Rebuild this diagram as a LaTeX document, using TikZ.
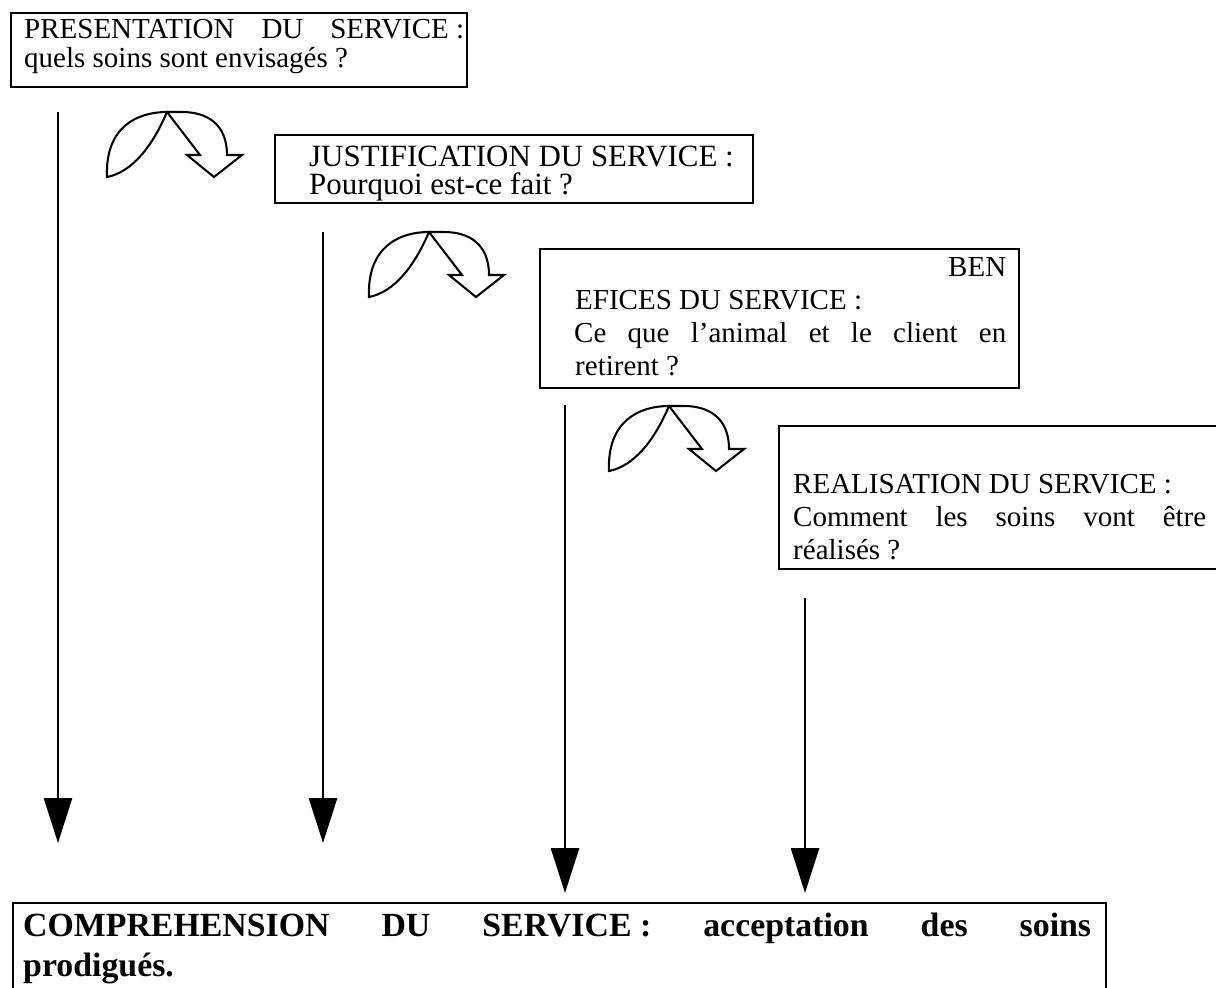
\documentclass[tikz,border=0pt]{standalone}
\usepackage{fontspec}
\setmainfont{Liberation Serif}
\usetikzlibrary{arrows.meta}
\newdimen\px \px=0.4138pt
\begin{document}
\begin{tikzpicture}[x=0.4138pt, y=-0.4138pt,
  box/.style={draw, line width=1pt, rectangle, inner sep=0pt, anchor=north west},
  varrow/.style={line width=1.1pt, -{Triangle[length=18.6pt, width=11.6pt]}},
  curvestyle/.style={draw, line width=0.85pt, line join=miter},
  curvarrow/.pic={
    \draw[curvestyle] (0,0) .. controls (-15,35) and (-35,60) .. (-60,65)
       .. controls (-62,15) and (-30,0) .. (0,0) -- cycle;
    \draw[curvestyle] (0,0) -- (33,43) -- (20,43) -- (47,65) -- (75,43) -- (60,43)
       .. controls (60,12) and (40,0) .. (15,0) -- cycle;
  }]
\useasboundingbox (0,0) rectangle (1216,987);
\clip (0,0) rectangle (1216,987);

% boxes
\node[box] (b1) at (10,12) {\parbox[t][74\px][t]{456\px}{\fontsize{12}{12}\selectfont
  \rule{0pt}{25\px}\hspace*{13\px}\makebox[440\px][s]{PRESENTATION DU SERVICE\kern.25em:}\\
  \hspace*{13\px}quels soins sont envisagés ?}};

\node[box] (b2) at (274,134) {\parbox[t][68\px][t]{478\px}{\fontsize{12.8}{11.6}\selectfont
  \rule{0pt}{31\px}\hspace*{34\px}JUSTIFICATION DU SERVICE\kern.25em:\\
  \hspace*{34\px}Pourquoi est-ce fait ?}};

\node[box] (b3) at (539,248) {\parbox[t][139\px][t]{479\px}{\fontsize{12}{13.66}\selectfont
  \rule{0pt}{27\px}\hspace*{35\px}\makebox[431\px][r]{BEN}\\
  \hspace*{35\px}EFICES DU SERVICE\kern.25em:\\
  \hspace*{34\px}\makebox[432\px][s]{Ce que l’animal et le client en}\\
  \hspace*{35\px}retirent ?}};

\node[box] (b4) at (778,425) {\parbox[t][143\px][t]{460\px}{\fontsize{12}{13.66}\selectfont
  \rule{0pt}{34\px}\\
  \hspace*{14\px}REALISATION DU SERVICE\kern.25em:\\
  \hspace*{14\px}\makebox[413\px][s]{Comment les soins vont être}\\
  \hspace*{14\px}réalisés ?}};

\node[box] (b5) at (12,902) {\parbox[t][110\px][t]{1093\px}{\fontsize{14}{16.55}\selectfont\bfseries
  \rule{0pt}{33\px}\hspace*{10\px}\makebox[1068\px][s]{COMPREHENSION DU SERVICE\kern.25em: acceptation des soins}\\
  \hspace*{10\px}prodigués.}};

% curved arrows
\pic at (167,112) {curvarrow};
\pic at (429,232) {curvarrow};
\pic at (669,406) {curvarrow};

% vertical arrows
\coordinate (s1) at (58,112);  \coordinate (e1) at (58,843);
\coordinate (s2) at (323,232); \coordinate (e2) at (323,843);
\coordinate (s3) at (565,405); \coordinate (e3) at (565,893);
\coordinate (s4) at (805,598); \coordinate (e4) at (805,893);
\draw[varrow] (s1) -- (e1);
\draw[varrow] (s2) -- (e2);
\draw[varrow] (s3) -- (e3);
\draw[varrow] (s4) -- (e4);
\end{tikzpicture}
\end{document}
